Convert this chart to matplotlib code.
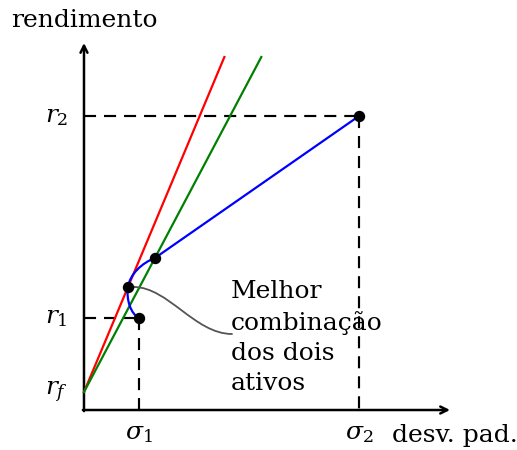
import numpy as np
import matplotlib
matplotlib.use("Agg")
import matplotlib.pyplot as plt
from matplotlib.path import Path
from matplotlib.patches import PathPatch, FancyArrowPatch

plt.rcParams['font.family'] = ['DejaVu Serif']
plt.rcParams['mathtext.fontset'] = 'dejavuserif'

# asset 1, asset 2 and the risk-free rate (sigma, return)
sigma1, r1 = 1.0, 1.673
sigma2, r2 = 5.0, 5.345
rf = 0.327

# tangency portfolio (red line) and second portfolio (green line)
best_pt = (0.80, 2.236)
other_pt = (1.29, 2.764)
line_top = 6.418

# efficient frontier as cubic bezier pieces: start, ctrl1, ctrl2, end
frontier_curves = [
    [(sigma1, r1), (0.855, 1.745), (0.764, 2.000), best_pt],
    [best_pt, (0.836, 2.473), (1.055, 2.673), other_pt],
]

x_axis_end = 6.655
y_axis_end = 6.673

fig = plt.figure(figsize=(5.17, 4.5), dpi=100)
ax = fig.add_axes([0, 0, 1, 1])
ax.set_xlim(-1.527, 7.873)
ax.set_ylim(-0.727, 7.4545)
ax.axis('off')

# axes with arrows
arr = dict(arrowstyle='->,head_length=0.5,head_width=0.25', lw=1.8, color='black',
           shrinkA=0, shrinkB=0)
ax.annotate('', xy=(x_axis_end, 0), xytext=(-0.02, 0), arrowprops=arr)
ax.annotate('', xy=(0, y_axis_end), xytext=(0, -0.02), arrowprops=arr)

# dashed guides
dash = dict(color='black', lw=1.55, dashes=(5.6, 3.7), zorder=2)
ax.plot([0, sigma1], [r1, r1], **dash)
ax.plot([sigma1, sigma1], [r1, 0], **dash)
ax.plot([0, sigma2], [r2, r2], **dash)
ax.plot([sigma2, sigma2], [r2, 0], **dash)

# capital allocation lines from rf
lw = 1.6
for pt, col in [(best_pt, 'red'), (other_pt, 'green')]:
    slope = (pt[1] - rf) / pt[0]
    ax.plot([0, (line_top - rf) / slope], [rf, line_top], color=col, lw=lw, zorder=3)

# frontier
verts, codes = [], []
for i, seg in enumerate(frontier_curves):
    if i == 0:
        verts.append(seg[0]); codes.append(Path.MOVETO)
    verts += seg[1:]
    codes += [Path.CURVE4] * 3
verts.append((sigma2, r2)); codes.append(Path.LINETO)
ax.add_patch(PathPatch(Path(verts, codes), fill=False, edgecolor='blue', lw=lw, zorder=3))

# points
px = [sigma1, best_pt[0], other_pt[0], sigma2]
py = [r1, best_pt[1], other_pt[1], r2]
ax.plot(px, py, 'o', color='black', ms=7.2, zorder=5)

# annotation pointer
note_path = Path([(2.691, 1.382), (2.018, 1.382), (1.527, 2.236), (best_pt[0] + 0.07, best_pt[1])],
                 [Path.MOVETO, Path.CURVE4, Path.CURVE4, Path.CURVE4])
ax.add_patch(FancyArrowPatch(path=note_path, arrowstyle='-|>,head_length=0.4,head_width=0.2',
                             color='#555555', lw=1.3, shrinkA=0, shrinkB=0, zorder=4))

fs = 18
ax.text(2.673, 2.36, 'Melhor\ncombinação\ndos dois\nativos', fontsize=fs,
        ha='left', va='top', linespacing=1.4)

ax.text(-0.29, r1, '$r_1$', fontsize=fs, ha='right', va='center')
ax.text(-0.29, r2, '$r_2$', fontsize=fs, ha='right', va='center')
ax.text(-0.29, rf, '$r_f$', fontsize=fs, ha='right', va='center')
ax.text(sigma1, -0.418, r'$\sigma_1$', fontsize=fs, ha='center', va='center')
ax.text(sigma2, -0.418, r'$\sigma_2$', fontsize=fs, ha='center', va='center')
ax.text(5.6, -0.455, 'desv. pad.', fontsize=fs, ha='left', va='center')
ax.text(0, 7.09, 'rendimento', fontsize=fs, ha='center', va='center')

fig.savefig('out.png', dpi=100)
